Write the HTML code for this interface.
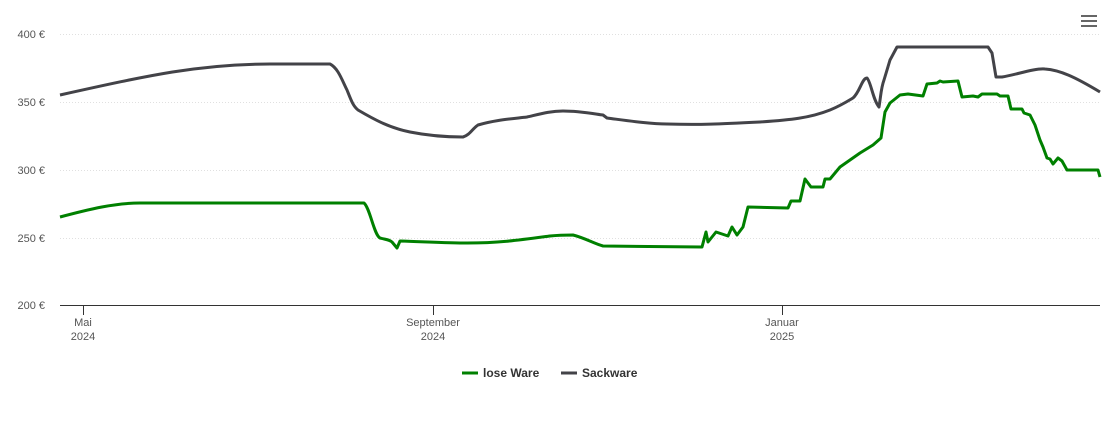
<!DOCTYPE html>
<html><head><meta charset="utf-8"><style>
body{margin:0;background:#fff;}
svg{display:block;font-family:"Liberation Sans",sans-serif;}
</style></head><body>
<svg width="1110" height="423" viewBox="0 0 1110 423">
<g stroke="#e0e0e0" stroke-dasharray="1,2" stroke-width="1">
<line x1="60" y1="34.5" x2="1100" y2="34.5"/>
<line x1="60" y1="102.5" x2="1100" y2="102.5"/>
<line x1="60" y1="170.5" x2="1100" y2="170.5"/>
<line x1="60" y1="238.5" x2="1100" y2="238.5"/>
</g>
<line x1="60" y1="305.5" x2="1100" y2="305.5" stroke="#333" stroke-width="1"/>
<g stroke="#333"><line x1="83.5" y1="305" x2="83.5" y2="315"/><line x1="433.5" y1="305" x2="433.5" y2="315"/><line x1="782.5" y1="305" x2="782.5" y2="315"/></g>
<g fill="#555" font-size="11" text-anchor="end">
<text x="45" y="38">400 €</text><text x="45" y="106">350 €</text><text x="45" y="174">300 €</text><text x="45" y="242">250 €</text><text x="45" y="309">200 €</text>
</g>
<g fill="#555" font-size="11" text-anchor="middle">
<text x="83" y="326">Mai</text><text x="83" y="340">2024</text>
<text x="433" y="326">September</text><text x="433" y="340">2024</text>
<text x="782" y="326">Januar</text><text x="782" y="340">2025</text>
</g>
<path fill="none" stroke="#434348" stroke-width="3" stroke-linejoin="round" d="M60,95 C150,75 200,64 270,64 L330,64 C338,68 342,80 347,90 C351,100 353,106 358,110 C375,120 390,128 410,132 C430,136 445,137 463,137 C470,135 473,128 478,125 C495,120 510,119 527,117 C540,114 550,111 563,111 C580,111 595,114 603,115 L607,118 C630,121 650,124 667,124 C700,125 720,124 760,122 C790,120 810,118 830,110 C840,106 848,101 853,98 C860,92 862,78 867,78 C871,82 873,100 879,107 C881,95 881,88 884,80 L890,60 L897,47 L988,47 L992,53 L996,77 L1002,77 C1015,75 1035,68 1045,69 C1060,70 1075,77 1100,92"/>
<path fill="none" stroke="#008000" stroke-width="3" stroke-linejoin="round" d="M60,217 C90,209 115,203 140,203 L364,203 C370,208 374,235 380,238 C388,240 390,240 392,242 L397,248 L400,241 C430,242 450,243 467,243 C500,243 520,240 550,236 C560,235 567,235 573,235 C585,238 595,244 603,246 L702,247 L706,232 L708,242 L716,232 L728,236 L732,227 L737,235 L743,227 L748,207 L788,208 L791,201 L800,201 L805,179 L811,187 L823,187 L825,179 L830,179 L840,167 L860,153 L873,145 L881,138 L885,112 L890,103 L900,95 L908,94 L923,96 L927,84 L937,83 L940,81 L943,82 L958,81 L962,97 L973,96 L978,97 L982,94 L997,94 L1000,96 L1008,96 L1011,109 L1022,109 L1024,113 L1030,115 L1035,125 L1040,140 L1043,147 L1047,158 L1050,159 L1053,164 L1058,158 L1062,161 L1067,170 L1098,170 L1100,177"/>
<g font-size="12" font-weight="bold" fill="#333">
<line x1="462" y1="373" x2="478" y2="373" stroke="#008000" stroke-width="3"/>
<text x="483" y="377">lose Ware</text>
<line x1="561" y1="373" x2="577" y2="373" stroke="#434348" stroke-width="3"/>
<text x="582" y="377">Sackware</text>
</g>
<g stroke="#666" stroke-width="2"><line x1="1081" y1="16" x2="1097" y2="16"/><line x1="1081" y1="21" x2="1097" y2="21"/><line x1="1081" y1="26" x2="1097" y2="26"/></g>
</svg>
</body></html>
